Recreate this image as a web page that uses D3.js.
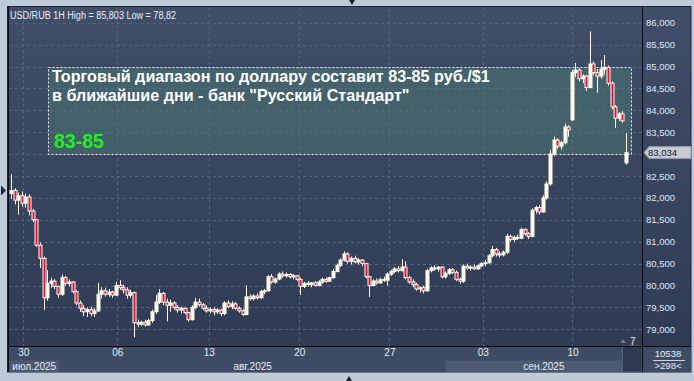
<!DOCTYPE html>
<html><head><meta charset="utf-8">
<script src="https://cdn.jsdelivr.net/npm/d3@7"></script>
<style>html,body{margin:0;padding:0;background:#bfcad8;overflow:hidden}text{font-family:"Liberation Sans",Arial,sans-serif}</style>
</head><body><svg id="c" width="694" height="381"></svg>
<script>
// ---- data ----
const open = [82.10,82.17,81.95,82.05,81.88,82.02,81.70,81.50,80.92,80.62,
79.72,80.05,80.10,79.98,79.80,80.18,80.05,80.08,79.86,79.60,
79.48,79.40,79.45,79.36,79.42,79.80,79.88,79.80,79.85,79.78,
80.00,79.95,79.90,79.78,79.84,79.15,79.12,79.16,79.10,79.20,
79.40,79.62,79.82,79.62,79.55,79.60,79.50,79.44,79.48,79.38,
79.22,79.50,79.62,79.56,79.48,79.42,79.45,79.40,79.44,79.36,
79.60,79.52,79.58,79.48,79.42,79.34,79.74,79.70,79.76,79.72,
79.86,79.88,80.20,80.08,80.15,80.26,80.22,80.25,80.20,80.22,
80.14,79.98,80.05,80.02,80.06,80.00,80.08,80.14,80.10,80.18,
80.32,80.46,80.58,80.72,80.55,80.62,80.54,80.58,80.50,80.20,
80.00,80.10,80.06,80.14,80.12,80.26,80.32,80.38,80.34,80.42,
80.18,80.08,80.02,79.92,79.95,79.88,80.34,80.40,80.38,80.42,
80.20,80.28,80.36,80.30,80.14,80.10,80.44,80.40,80.42,80.38,
80.45,80.50,80.52,80.68,80.82,80.72,80.70,80.76,81.12,81.05,
81.10,81.08,81.28,81.18,81.12,81.72,81.78,81.68,82.00,82.32,
83.00,83.32,83.18,83.26,83.62,83.78,84.86,84.92,84.72,84.78,
84.52,85.06,84.86,84.78,84.94,84.98,84.62,84.08,83.82,83.92,
82.80];
const high = [82.54,82.22,82.12,82.15,82.10,82.08,81.75,81.52,80.98,80.66,
80.35,80.18,80.15,80.00,80.25,80.22,80.14,80.10,79.90,79.66,
79.55,79.50,79.52,79.48,80.06,79.96,79.95,79.92,79.88,80.08,
80.12,80.02,79.96,79.90,79.86,79.22,79.20,79.22,79.24,79.45,
79.78,79.92,79.85,79.70,79.68,79.64,79.55,79.52,79.50,79.40,
79.55,79.72,79.70,79.60,79.54,79.50,79.50,79.48,79.46,79.64,
79.66,79.64,79.62,79.52,79.46,80.00,79.80,79.80,79.82,79.90,
79.92,80.24,80.26,80.18,80.30,80.32,80.30,80.28,80.26,80.24,
80.18,80.08,80.10,80.08,80.10,80.12,80.18,80.18,80.20,80.38,
80.50,80.62,80.78,80.76,80.66,80.68,80.62,80.60,80.52,80.22,
80.14,80.16,80.18,80.20,80.30,80.36,80.42,80.44,80.60,80.55,
80.22,80.14,80.06,79.98,80.00,80.38,80.44,80.46,80.44,80.44,
80.32,80.40,80.40,80.34,80.18,80.48,80.50,80.46,80.48,80.48,
80.54,80.58,80.72,80.90,80.86,80.78,80.80,81.18,81.16,81.14,
81.16,81.32,81.30,81.22,81.76,81.82,81.84,82.06,82.38,83.10,
83.40,83.36,83.30,83.70,83.66,84.92,85.08,84.96,84.82,84.80,
85.80,85.12,84.94,85.15,85.26,85.02,84.66,84.12,83.96,83.98,
83.48];
const low = [81.98,81.85,81.62,81.80,81.78,81.60,81.45,80.88,80.40,79.44,
79.65,79.95,79.92,79.72,79.76,80.00,79.98,79.82,79.55,79.40,
79.30,79.28,79.30,79.28,79.40,79.70,79.75,79.74,79.72,79.76,
79.90,79.82,79.70,79.72,78.82,79.05,79.08,79.06,79.08,79.15,
79.35,79.58,79.55,79.18,79.40,79.45,79.38,79.36,79.34,79.18,
79.20,79.46,79.52,79.44,79.38,79.36,79.32,79.35,79.30,79.32,
79.48,79.46,79.44,79.38,79.30,79.32,79.66,79.66,79.68,79.70,
79.80,79.86,80.04,80.04,80.12,80.18,80.18,80.16,80.14,80.10,
79.78,79.94,79.98,79.96,79.98,79.98,80.04,80.06,80.08,80.15,
80.30,80.42,80.55,80.50,80.48,80.50,80.48,80.44,80.16,79.74,
79.98,80.02,80.04,80.08,80.00,80.22,80.28,80.30,80.32,80.14,
80.04,79.96,79.88,79.84,79.82,79.86,80.30,80.34,80.32,80.16,
80.16,80.24,80.26,80.10,80.04,80.06,80.36,80.34,80.36,80.36,
80.42,80.44,80.50,80.64,80.66,80.64,80.66,80.72,81.00,81.00,
81.04,81.06,81.14,81.06,81.10,81.64,81.62,81.66,81.96,82.28,
82.95,83.12,83.10,83.22,83.40,83.76,84.76,84.66,84.62,84.44,
84.50,84.80,84.40,84.72,84.82,84.56,84.02,83.60,83.76,83.72,
82.76];
const close = [82.17,81.95,82.05,81.88,82.02,81.70,81.50,80.92,80.62,79.72,
80.05,80.10,79.98,79.80,80.18,80.05,80.08,79.86,79.60,79.48,
79.40,79.45,79.36,79.42,79.80,79.88,79.80,79.85,79.78,80.00,
79.95,79.90,79.78,79.84,79.15,79.12,79.16,79.10,79.20,79.40,
79.62,79.82,79.62,79.55,79.60,79.50,79.44,79.48,79.38,79.22,
79.50,79.62,79.56,79.48,79.42,79.45,79.40,79.44,79.36,79.60,
79.52,79.58,79.48,79.42,79.34,79.74,79.70,79.76,79.72,79.86,
79.88,80.20,80.08,80.15,80.26,80.22,80.25,80.20,80.22,80.14,
79.98,80.05,80.02,80.06,80.00,80.08,80.14,80.10,80.18,80.32,
80.46,80.58,80.72,80.55,80.62,80.54,80.58,80.50,80.20,80.00,
80.10,80.06,80.14,80.12,80.26,80.32,80.38,80.34,80.42,80.18,
80.08,80.02,79.92,79.95,79.88,80.34,80.40,80.38,80.42,80.20,
80.28,80.36,80.30,80.14,80.10,80.44,80.40,80.42,80.38,80.45,
80.50,80.52,80.68,80.82,80.72,80.70,80.76,81.12,81.05,81.10,
81.08,81.28,81.18,81.12,81.72,81.78,81.68,82.00,82.32,83.00,
83.32,83.18,83.26,83.62,83.55,84.86,84.92,84.72,84.78,84.52,
85.06,84.86,84.78,84.94,84.98,84.62,84.08,83.82,83.92,83.76,
83.034];
const yTicks = [79,79.5,80,80.5,81,81.5,82,82.5,83,83.5,84,84.5,85,85.5,86];
const dayTicks = ["30","06","13","20","27","03","10"];
const dayTickIdx = [3.4,29.4,54.65,79.7,104.6,130.4,155.2];
const months = ["июл.2025","авг.2025","сен.2025"];
const monthStartIdx = [-0.6,13.4,120.2];
const header = "USD/RUB 1H High = 85,803 Low = 78,82";
const noteLines = ["Торговый диапазон по доллару составит 83-85 руб./$1","в ближайшие дни - банк \"Русский Стандарт\""];
const noteRange = [83,85];
const noteLabel = "83-85";
const lastPrice = 83.034;
const footTop = "10538", footBottom = ">298<", countLabel = "7";

// ---- layout ----
const svg = d3.select("#c");
const P = {l:9, r:642, t:8, b:346, R:691, B:372};
const xs = d3.scaleLinear().domain([0, close.length-1]).range([11, 626]);
const ys = d3.scaleLinear().domain([79, 86]).range([329.3, 22.7]);
const loc = d3.formatLocale({decimal:",", thousands:" ", grouping:[3], currency:["",""]});
const fmt = loc.format(".3f");

const defs = svg.append("defs");
const g1 = defs.append("linearGradient").attr("id","bg").attr("x1",0).attr("x2",0).attr("y1",0).attr("y2",1);
g1.append("stop").attr("offset","0").attr("stop-color","#414e69");
g1.append("stop").attr("offset","1").attr("stop-color","#2e3a53");
defs.append("clipPath").attr("id","clip").append("rect").attr("x",P.l).attr("y",P.t).attr("width",P.r-P.l).attr("height",P.b-P.t);

// outer panel
svg.append("rect").attr("x",7.5).attr("y",6.5).attr("width",P.R-7.5).attr("height",P.B-6.5).attr("fill","url(#bg)").attr("stroke","#1c2434");
svg.append("rect").attr("x",P.l).attr("y",P.b).attr("width",P.R-P.l).attr("height",P.B-P.b).attr("fill","#3e4b64");

// grid
const grid = svg.append("g").attr("stroke","#56637e").attr("stroke-dasharray","3,3").attr("stroke-width",1);
grid.selectAll("line.h").data(yTicks).join("line").attr("class","h")
  .attr("x1",P.l).attr("x2",P.r).attr("y1",d=>Math.round(ys(d))+0.5).attr("y2",d=>Math.round(ys(d))+0.5);
grid.selectAll("line.v").data(dayTickIdx).join("line").attr("class","v")
  .attr("y1",P.t).attr("y2",P.b).attr("x1",d=>Math.round(xs(d))+0.5).attr("x2",d=>Math.round(xs(d))+0.5);

// range box
const bx0 = 48.5, bx1 = 631.5;
svg.append("rect").attr("x",bx0).attr("y",Math.round(ys(noteRange[1]))+0.5)
  .attr("width",bx1-bx0).attr("height",Math.round(ys(noteRange[0]))-Math.round(ys(noteRange[1])))
  .attr("fill","rgba(78,132,118,0.42)").attr("stroke","#f2f2f2").attr("stroke-dasharray","2,2");

// candles
const cg = svg.append("g").attr("clip-path","url(#clip)");
const idx = d3.range(close.length);
cg.selectAll("line.w").data(idx).join("line").attr("class","w")
  .attr("x1",i=>Math.round(xs(i))+0.5).attr("x2",i=>Math.round(xs(i))+0.5)
  .attr("y1",i=>ys(high[i])).attr("y2",i=>ys(low[i]))
  .attr("stroke","#fffbea").attr("stroke-width",1);
cg.selectAll("rect.b").data(idx).join("rect").attr("class","b")
  .attr("x",i=>Math.round(xs(i))-1)
  .attr("width",3)
  .attr("y",i=>ys(Math.max(open[i],close[i])))
  .attr("height",i=>Math.max(1,Math.abs(ys(open[i])-ys(close[i]))))
  .attr("fill",i=>close[i]>=open[i]?"#fffbea":"#e2123c")
  .attr("stroke","#fffbea").attr("stroke-width",1);

// note text
const nt = svg.append("g").attr("fill","#ffffff").attr("font-weight","bold");
const t1 = nt.append("text").attr("x",52).attr("y",82).attr("font-size",15).text(noteLines[0]);
const w = t1.node().getComputedTextLength();
const fs = 15*438/w;
t1.attr("font-size",fs);
nt.append("text").attr("x",52).attr("y",101).attr("font-size",fs).text(noteLines[1]);
svg.append("text").attr("x",54).attr("y",148).attr("font-size",19.5).attr("font-weight","bold").attr("fill","#1ff01f").text(noteLabel);

// header
svg.append("text").attr("x",10).attr("y",19).attr("font-size",10).attr("fill","#e8edf4")
  .attr("textLength",166).attr("lengthAdjust","spacingAndGlyphs").text(header);

// month bands
const mEdges = monthStartIdx.map(d=>Math.max(P.l, xs(d)));
mEdges.push(P.r);
months.forEach((m,k)=>{
  const a = mEdges[k], b = mEdges[k+1];
  if (k%2===0) svg.append("rect").attr("x",a).attr("y",360.5).attr("width",Math.min(b,622)-a).attr("height",P.B-360.5).attr("fill","#4b5971");
  svg.append("text").attr("x",(a+b)/2).attr("y",370).attr("text-anchor","middle").attr("font-size",10).attr("fill","#e6ecf6").text(m);
});
// future block
svg.append("rect").attr("x",622.5).attr("y",P.b).attr("width",P.r-622.5).attr("height",P.B-P.b).attr("fill","#2d394f").attr("stroke","#56637a");

// x axis
const xa = svg.append("g").attr("transform",`translate(0,${P.b})`)
  .call(d3.axisBottom(xs).tickValues(dayTickIdx).tickFormat((d,i)=>dayTicks[i]).tickSize(0).tickPadding(3));
xa.select(".domain").remove();
xa.selectAll("text").attr("font-size",10).attr("fill","#e6ecf6").attr("font-family","Liberation Sans, Arial, sans-serif");

// y axis (the tick hidden under the last-price tag is not shown, as in the reference)
const ly = ys(lastPrice);
const ya = svg.append("g").attr("transform",`translate(${P.r},0)`)
  .call(d3.axisRight(ys).tickValues(yTicks.filter(v=>Math.abs(ys(v)-ly)>11)).tickFormat(fmt).tickSize(0).tickPadding(4));
ya.select(".domain").remove();
ya.selectAll("text").attr("font-size",9.5).attr("fill","#dfe8f8").attr("font-family","Liberation Sans, Arial, sans-serif");

// frame lines
svg.append("line").attr("x1",P.l).attr("x2",P.R).attr("y1",P.b+0.5).attr("y2",P.b+0.5).attr("stroke","#0a0d14");
svg.append("line").attr("x1",P.r+0.5).attr("x2",P.r+0.5).attr("y1",7).attr("y2",P.B).attr("stroke","#0a0d14");
svg.append("line").attr("x1",8.5).attr("x2",8.5).attr("y1",7).attr("y2",P.B).attr("stroke","#0a0d14");

// last price tag
svg.append("path").attr("d",`M644,${ly} L649,${ly-6} L691,${ly-6} L691,${ly+6} L649,${ly+6} Z`)
  .attr("fill","#c6cbd4").attr("stroke","#8e98a8");
svg.append("text").attr("x",648).attr("y",ly+3.5).attr("font-size",9.5).attr("fill","#1a1a1a").text(fmt(lastPrice));

// count label
svg.append("path").attr("d","M620,343 L623,339 L626,343 Z").attr("fill","#6a7790");
svg.append("text").attr("x",630).attr("y",345).attr("font-size",10).attr("fill","#f0f0f0").text(countLabel);

// footer info
svg.append("text").attr("x",668).attr("y",357).attr("text-anchor","middle").attr("font-size",9.5).attr("fill","#e6ecf6").text(footTop);
svg.append("line").attr("x1",653).attr("x2",685).attr("y1",360.5).attr("y2",360.5).attr("stroke","#c9d2de");
svg.append("text").attr("x",668).attr("y",369).attr("text-anchor","middle").attr("font-size",9.5).attr("fill","#e6ecf6").text(footBottom);

// markers in margin
svg.append("path").attr("d","M349,0 L355,0 L352,5 Z").attr("fill","#1b2233");
svg.append("path").attr("d","M346,381 L352,381 L349,376 Z").attr("fill","#1b2233");
svg.append("path").attr("d",`M1,${ys(82.17)-5} L6,${ys(82.17)} L1,${ys(82.17)+5} Z`).attr("fill","#1b2640");
</script></body></html>
